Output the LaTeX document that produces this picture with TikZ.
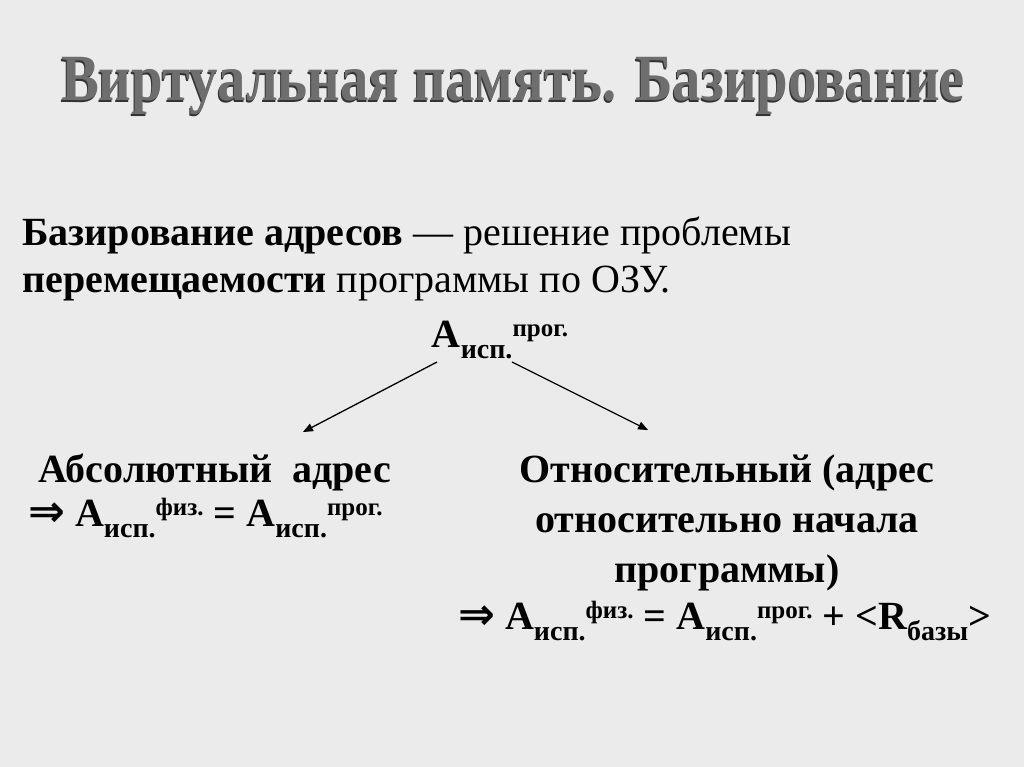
\documentclass[tikz,border=0pt]{standalone}
\usepackage{fontspec}
\setmainfont{Liberation Serif}[BoldFont={Liberation Serif Bold}]
\newfontfamily\titlefont{Liberation Serif Bold}[FakeStretch=0.86]
\newfontfamily\arrowfont{DejaVu Sans Bold}
\usetikzlibrary{arrows}
\definecolor{slidebg}{HTML}{EBEBEB}
\definecolor{titlegray}{HTML}{6E6E6E}
\newcommand{\Aisp}[1]{A\raisebox{-11pt}{\fontsize{28}{28}\selectfont исп.}\raisebox{11pt}{\fontsize{25}{25}\selectfont #1}}
\newcommand{\impl}{{\arrowfont\fontsize{44}{44}\selectfont ⇒}}

\begin{document}
\begin{tikzpicture}[x=1pt,y=-1pt]
\tikzstyle{every node}+=[inner sep=0pt, font=\rmfamily\fontsize{40}{50}\selectfont]
\tikzstyle{title}=[font=\titlefont\fontsize{66}{66}\selectfont]
\tikzstyle{bold}=[font=\rmfamily\bfseries\fontsize{40}{50}\selectfont]
\fill[slidebg] (0,0) rectangle (1024,767);
\useasboundingbox (0,0) rectangle (1024,767);

% title, shadow first
\node (shadow) [title, black!80] at (512,88) {Виртуальная память. Базирование};
\node (title) [title, titlegray] at (513,86) {Виртуальная память. Базирование};

\node (def1) [anchor=base west] at (22,245) {\textbf{Базирование адресов} — решение проблемы};
\node (def2) [anchor=base west] at (22,292) {\textbf{перемещаемости} программы по ОЗУ.};

\node (aprog) [bold, anchor=base] at (500,347) {\Aisp{прог.}};

\node (abs) [bold, anchor=base] at (215,482) {Абсолютный~ адрес};
\node (absf) [bold, anchor=base west] at (28,526) {\impl\ \Aisp{физ.} = \Aisp{прог.}};

\node (rel) [bold, align=center, anchor=north] at (727,455) {Относительный (адрес\\ относительно начала\\ программы)};
\node (relf) [bold, anchor=base west] at (458,629) {\impl\ \Aisp{физ.} = \Aisp{прог.} + <R\raisebox{-11pt}{\fontsize{28}{28}\selectfont базы}>};

\coordinate (lfrom) at (437,362);
\coordinate (rfrom) at (512,362);
\coordinate (lto) at (303,432);
\coordinate (rto) at (648,430);

\path[-triangle 45, line width=1.3pt]
  (lfrom) edge (lto)
  (rfrom) edge (rto)
;
\end{tikzpicture}
\end{document}
